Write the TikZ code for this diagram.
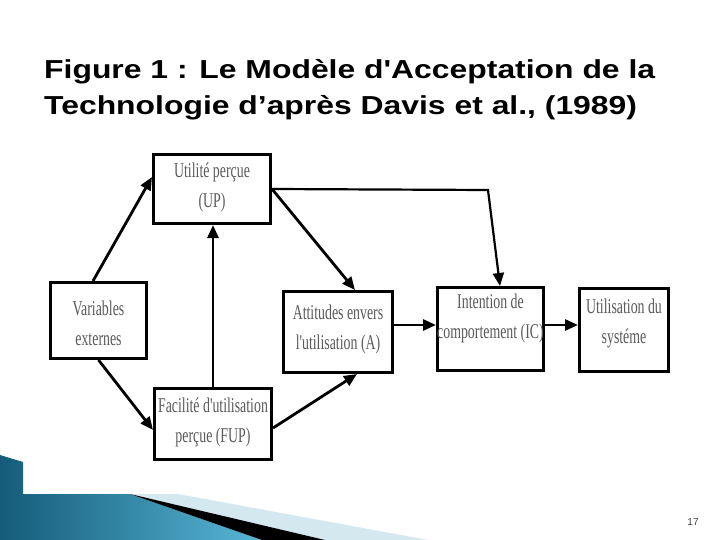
\documentclass[tikz,border=0pt]{standalone}
\usepackage{fontspec}
\setmainfont{Liberation Serif}
\newfontfamily\titlefont[FakeStretch=1.226,Ligatures=TeXOff]{Liberation Sans}
\newfontfamily\boxfont[FakeStretch=0.66,Ligatures=TeXOff]{Liberation Serif}
\newfontfamily\numfont{Liberation Sans}
\usetikzlibrary{arrows.meta}
\definecolor{boxtext}{RGB}{90,90,90}
\definecolor{tealdark}{RGB}{20,92,122}
\definecolor{teallight}{RGB}{88,182,214}
\definecolor{paleblue}{RGB}{212,232,240}
\tikzset{
  box/.style={draw=black, line width=3pt, fill=white, inner sep=0pt},
  boxtxt/.style={text=boxtext, align=center, inner sep=0pt,
    font=\boxfont\fontsize{21}{30}\selectfont},
  conn/.style={line width=2.8pt, -{Triangle[length=13pt,width=11pt]}},
  titletxt/.style={anchor=base west, inner sep=0pt,
    font=\titlefont\bfseries\fontsize{26}{36}\selectfont}
}
\begin{document}
\begin{tikzpicture}[x=1pt,y=-1pt]
\useasboundingbox (0,0) rectangle (720,540);
\fill[white] (0,0) rectangle (720,540);

% bottom decoration
\shade[left color=tealdark, right color=teallight, shading angle=90]
  (0,455) -- (23,462) -- (23,494) -- (130,494) -- (262,540) -- (0,540) -- cycle;
\fill[paleblue] (130,494) -- (178,494) -- (428,540) -- (325,540) -- cycle;
\fill[black] (130,494) -- (325,540) -- (262,540) -- cycle;
\node[font=\numfont\fontsize{10}{12}\selectfont, text=black!75, inner sep=0pt] (page) at (693,522) {17};

% title
\node[titletxt] (title1) at (44,79) {Figure 1 : Le Modèle d'Acceptation de la};
\node[titletxt] (title2) at (44,115) {Technologie d’après Davis et al., (1989)};

% boxes
\node[box, minimum width=117pt, minimum height=69pt] (up) at (212,189) {};
\node[box, minimum width=96pt, minimum height=76pt] (var) at (98.5,320.5) {};
\node[box, minimum width=117pt, minimum height=71pt] (fup) at (213,424) {};
\node[box, minimum width=109pt, minimum height=81pt] (att) at (338,332) {};
\node[box, minimum width=106pt, minimum height=83pt] (ic) at (490.5,329) {};
\node[box, minimum width=89pt, minimum height=83pt] (use) at (624,330) {};

\node[boxtxt] (uptxt) at (212,187) {Utilité perçue\\(UP)};
\node[boxtxt] (vartxt) at (98.5,323) {Variables\\externes};
\node[boxtxt] (fuptxt) at (213,422) {Facilité d'utilisation\\perçue (FUP)};
\node[boxtxt] (atttxt) at (338,329) {Attitudes envers\\l'utilisation (A)};
\node[boxtxt] (ictxt) at (490.5,318) {Intention de\\comportement (IC)};
\node[boxtxt] (usetxt) at (624,323) {Utilisation du\\systéme};

% connectors
\coordinate (corner) at (488,190);
\draw[conn] ([xshift=-5.5pt]var.north) -- ([yshift=12pt]up.west);
\draw[conn] (fup.north) -- (fup.north |- up.south);
\draw[conn] (var.south) -- ([yshift=-6pt]fup.west);
\draw[conn] ([yshift=-4pt]fup.east) -- ([xshift=19pt]att.south);
\draw[conn] (up.east) -- ([xshift=17pt]att.north);
\draw[conn, line width=2.2pt] (up.east) -- (corner) -- ([xshift=9.5pt]ic.north);
\draw[conn] ([yshift=7pt]att.east) -- ([yshift=7pt]att.east -| ic.west);
\draw[conn] ([yshift=4pt]ic.east) -- ([yshift=4pt]ic.east -| use.west);
\end{tikzpicture}
\end{document}
